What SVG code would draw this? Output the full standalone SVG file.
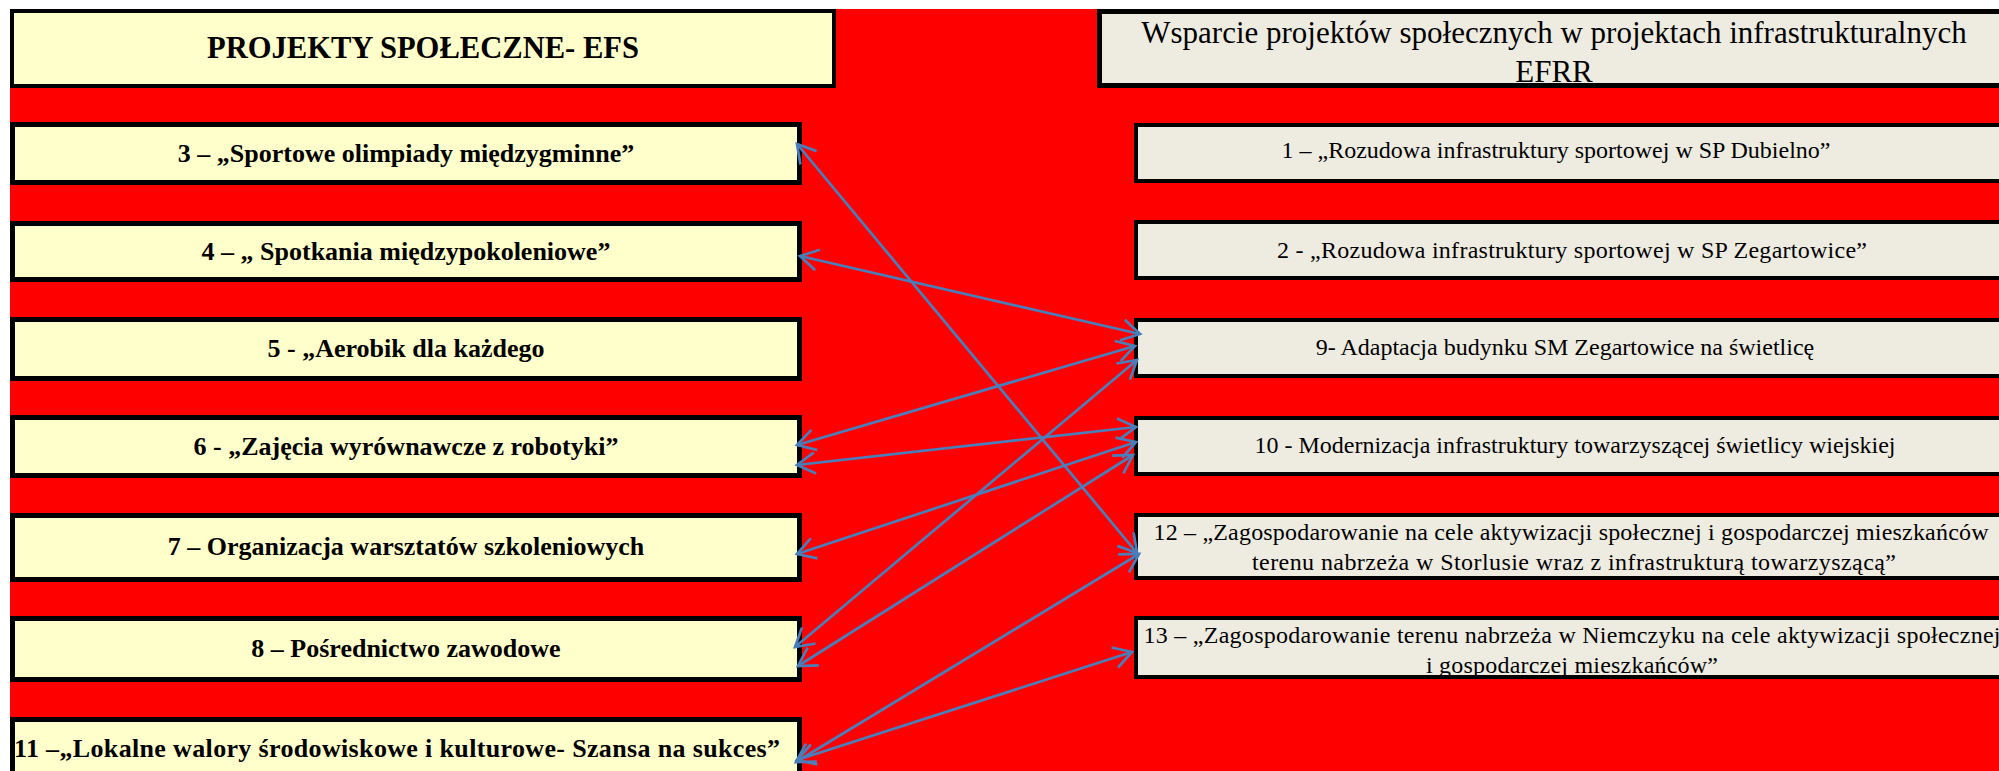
<svg xmlns="http://www.w3.org/2000/svg" width="1999" height="771" viewBox="0 0 1999 771">
  <style>
    .hdrL { fill: #FFFFCC; stroke: #000; stroke-width: 4; }
    .hdrR { fill: #EEECE1; stroke: #000; stroke-width: 5; }
    .boxL { fill: #FFFFCC; stroke: #000; stroke-width: 5; }
    .boxR { fill: #EEECE1; stroke: #000; stroke-width: 4; }
    .tB { font-family: "Liberation Serif", "Times New Roman", serif; font-weight: bold; font-size: 26px; fill: #000; text-anchor: middle; }
    .tR { font-family: "Liberation Serif", "Times New Roman", serif; font-size: 24px; fill: #000; text-anchor: middle; }
    .tH { font-family: "Liberation Serif", "Times New Roman", serif; font-size: 31px; fill: #000; text-anchor: middle; }
    .tHB { font-family: "Liberation Serif", "Times New Roman", serif; font-weight: bold; font-size: 31px; fill: #000; text-anchor: middle; }
    .conn line { stroke: #4A7EBB; stroke-width: 2.7; fill: none; marker-start: url(#arr); marker-end: url(#arr); }
  </style>
  <defs>
    <marker id="arr" markerUnits="userSpaceOnUse" viewBox="-22 -14 26 28" refX="0" refY="0" markerWidth="26" markerHeight="28" orient="auto-start-reverse" overflow="visible">
      <path d="M -18,-10.5 L 0,0 L -18,10.5" fill="none" stroke="#4A7EBB" stroke-width="2.7" stroke-linejoin="miter"/>
    </marker>
  </defs>

  <rect x="0" y="0" width="1999" height="771" fill="#FFFFFF"/>
  <rect x="10" y="9" width="1989" height="762" fill="#FF0000"/>

  <g id="header-efs">
    <rect class="hdrL" x="12" y="11" width="822" height="75"/>
    <text class="tHB" x="423" y="58" textLength="432" lengthAdjust="spacingAndGlyphs">PROJEKTY SPOŁECZNE- EFS</text>
  </g>
  <g id="header-efrr">
    <rect class="hdrR" x="1099.5" y="11.5" width="915" height="74"/>
    <text class="tH" x="1554" y="43">Wsparcie projektów społecznych w projektach infrastrukturalnych</text>
    <text class="tH" x="1554" y="82">EFRR</text>
  </g>

  <g id="node-3">
    <rect class="boxL" x="12.5" y="124.5" width="787" height="58"/>
    <text class="tB" x="406" y="162">3 – „Sportowe olimpiady międzygminne”</text>
  </g>
  <g id="node-4">
    <rect class="boxL" x="12.5" y="223.5" width="787" height="56"/>
    <text class="tB" x="406" y="260">4 – „ Spotkania międzypokoleniowe”</text>
  </g>
  <g id="node-5">
    <rect class="boxL" x="12.5" y="319.5" width="787" height="59"/>
    <text class="tB" x="406" y="357">5 - „Aerobik dla każdego</text>
  </g>
  <g id="node-6">
    <rect class="boxL" x="12.5" y="417.5" width="787" height="58"/>
    <text class="tB" x="406" y="455">6 - „Zajęcia wyrównawcze z robotyki”</text>
  </g>
  <g id="node-7">
    <rect class="boxL" x="12.5" y="515.5" width="787" height="64"/>
    <text class="tB" x="406" y="555">7 – Organizacja warsztatów szkoleniowych</text>
  </g>
  <g id="node-8">
    <rect class="boxL" x="12.5" y="618.5" width="787" height="61"/>
    <text class="tB" x="406" y="657">8 – Pośrednictwo zawodowe</text>
  </g>
  <g id="node-11">
    <rect class="boxL" x="12.5" y="719.5" width="787" height="70"/>
    <text class="tB" x="397" y="757" textLength="766" lengthAdjust="spacing">11 –„Lokalne walory środowiskowe i kulturowe- Szansa na sukces”</text>
  </g>

  <g id="node-1">
    <rect class="boxR" x="1136" y="125" width="880" height="56"/>
    <text class="tR" x="1556" y="158">1 – „Rozudowa infrastruktury sportowej w SP Dubielno”</text>
  </g>
  <g id="node-2">
    <rect class="boxR" x="1136" y="222" width="880" height="56"/>
    <text class="tR" x="1572" y="258" textLength="590" lengthAdjust="spacing">2 - „Rozudowa infrastruktury sportowej w SP Zegartowice”</text>
  </g>
  <g id="node-9">
    <rect class="boxR" x="1136" y="320" width="880" height="56"/>
    <text class="tR" x="1565" y="355">9- Adaptacja budynku SM Zegartowice na świetlicę</text>
  </g>
  <g id="node-10">
    <rect class="boxR" x="1136" y="418" width="880" height="56"/>
    <text class="tR" x="1575" y="453">10 - Modernizacja infrastruktury towarzyszącej świetlicy wiejskiej</text>
  </g>
  <g id="node-12">
    <rect class="boxR" x="1136" y="515" width="880" height="63"/>
    <text class="tR" x="1571" y="540" textLength="835" lengthAdjust="spacing">12 – „Zagospodarowanie na cele aktywizacji społecznej i gospodarczej mieszkańców</text>
    <text class="tR" x="1574" y="570" textLength="644" lengthAdjust="spacing">terenu nabrzeża w Storlusie wraz z infrastrukturą towarzyszącą”</text>
  </g>
  <g id="node-13">
    <rect class="boxR" x="1136" y="618" width="880" height="59"/>
    <text class="tR" x="1572" y="643" textLength="857" lengthAdjust="spacing">13 – „Zagospodarowanie terenu nabrzeża w Niemczyku na cele aktywizacji społecznej</text>
    <text class="tR" x="1572" y="673" textLength="292" lengthAdjust="spacing">i gospodarczej mieszkańców”</text>
  </g>

  <g id="connectors" class="conn">
    <line x1="797" y1="144" x2="1137" y2="553"/>
    <line x1="800" y1="256" x2="1140" y2="334"/>
    <line x1="797" y1="445" x2="1135" y2="346"/>
    <line x1="797" y1="465" x2="1136" y2="427"/>
    <line x1="795" y1="647" x2="1137" y2="360"/>
    <line x1="797" y1="554" x2="1136" y2="442"/>
    <line x1="798" y1="666" x2="1133" y2="455"/>
    <line x1="796" y1="762" x2="1139" y2="554"/>
    <line x1="797" y1="760" x2="1132" y2="652"/>
  </g>
</svg>
